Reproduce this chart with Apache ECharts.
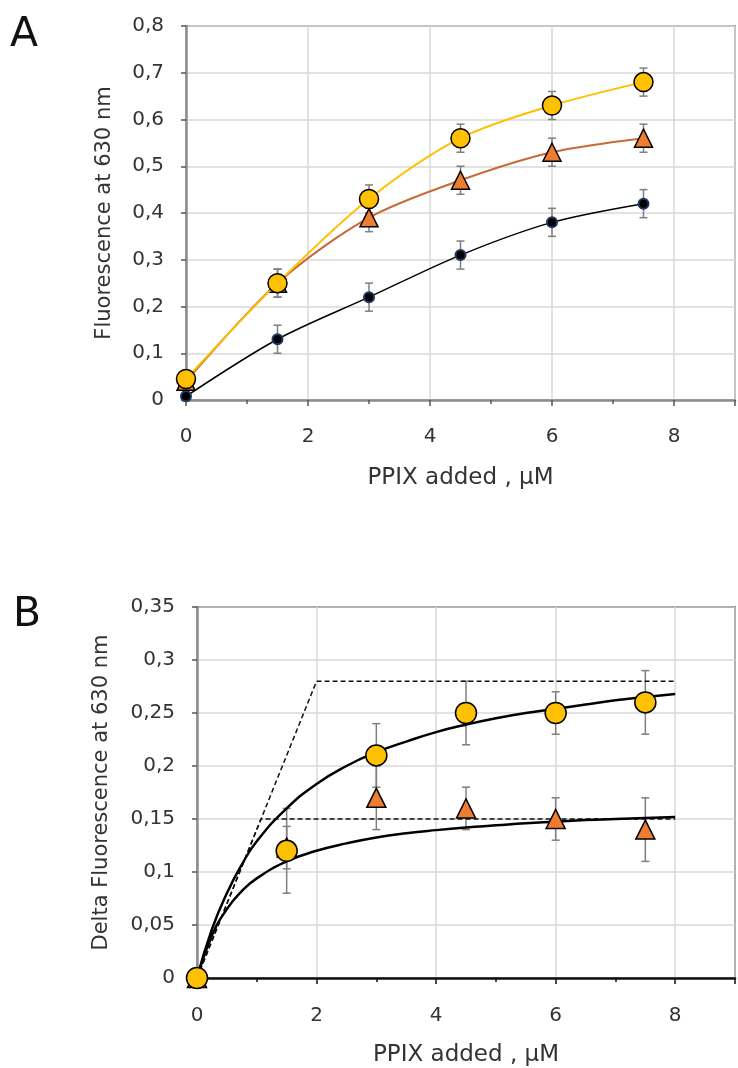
<!DOCTYPE html>
<html>
<head>
<meta charset="utf-8">
<script src="https://cdn.jsdelivr.net/npm/echarts@6/dist/echarts.min.js"></script>
<style>
html,body{margin:0;padding:0;background:#fff;}
#chart{width:738px;height:1068px;}
</style>
</head>
<body>
<div id="chart"></div>
<script>
// ---------- Panel A data ----------
const xA = [0, 1.5, 3, 4.5, 6, 7.5];
const yellowA = [0.045, 0.25, 0.43, 0.56, 0.63, 0.68];
const yellowAErr = [0.01, 0.03, 0.03, 0.03, 0.03, 0.03];
const orangeA = [0.04, 0.25, 0.39, 0.47, 0.53, 0.56];
const orangeAErr = [0.01, 0.03, 0.03, 0.03, 0.03, 0.03];
const blackA = [0.008, 0.13, 0.22, 0.31, 0.38, 0.42];
const blackAErr = [0.01, 0.03, 0.03, 0.03, 0.03, 0.03];

// ---------- Panel B data ----------
const xB = [0, 1.5, 3, 4.5, 6, 7.5];
const yellowB = [0, 0.12, 0.21, 0.25, 0.25, 0.26];
const yellowBErr = [0, 0.04, 0.03, 0.03, 0.02, 0.03];
const orangeB = [0, 0.123, 0.17, 0.16, 0.15, 0.14];
const orangeBErr = [0, 0.02, 0.03, 0.02, 0.02, 0.03];
// fitted saturation curves
const fitX = [0, 0.25, 0.5, 0.75, 1, 1.5, 2, 2.5, 3, 3.5, 4, 4.5, 5, 5.5, 6, 6.5, 7, 7.5, 8];
const fitUpper = [0, 0.046, 0.080, 0.107, 0.129, 0.160, 0.183, 0.200, 0.213, 0.223, 0.232, 0.239, 0.245, 0.250, 0.254, 0.258, 0.262, 0.265, 0.268];
const fitLower = [0, 0.040, 0.065, 0.082, 0.094, 0.110, 0.120, 0.127, 0.1325, 0.1365, 0.1395, 0.142, 0.144, 0.146, 0.1475, 0.149, 0.150, 0.151, 0.152];
const dashUpperX = [0, 2, 8];
const dashUpperY = [0, 0.28, 0.28];
const dashLowerX = [0, 1.07, 8];
const dashLowerY = [0, 0.15, 0.15];

// axis titles
const xTitle = 'PPIX added , µM';
const yTitleA = 'Fluorescence at 630 nm';
const yTitleB = 'Delta Fluorescence at 630 nm';

const FONT = 'DejaVu Sans';
const YELLOW = '#FFC000';
const ORANGE = '#ED7D31';

function pairs(xs, ys) { return xs.map((x, i) => [x, ys[i]]); }
function errData(xs, ys, es) { return xs.map((x, i) => [x, ys[i] - es[i], ys[i] + es[i]]); }
function commaFmt(v) {
  if (v === 0) return '0';
  return String(+v.toFixed(2)).replace('.', ',');
}

function errSeries(idx, xs, ys, es) {
  return {
    type: 'custom', xAxisIndex: idx, yAxisIndex: idx, z: 1,
    data: errData(xs, ys, es).filter(d => d[2] - d[1] > 0.001),
    renderItem: function (params, api) {
      const lo = api.coord([api.value(0), api.value(1)]);
      const hi = api.coord([api.value(0), api.value(2)]);
      const w = 4;
      const st = { stroke: '#7f7f7f', lineWidth: 1.5 };
      return {
        type: 'group',
        children: [
          { type: 'line', shape: { x1: lo[0], y1: lo[1], x2: hi[0], y2: hi[1] }, style: st },
          { type: 'line', shape: { x1: lo[0] - w, y1: lo[1], x2: lo[0] + w, y2: lo[1] }, style: st },
          { type: 'line', shape: { x1: hi[0] - w, y1: hi[1], x2: hi[0] + w, y2: hi[1] }, style: st }
        ]
      };
    }
  };
}

function xAxisCfg(idx, lineColor, tickColor, gap, margin) {
  return {
    type: 'value', gridIndex: idx, min: 0, max: 9, interval: 2,
    name: xTitle, nameLocation: 'middle', nameGap: gap,
    nameTextStyle: { fontFamily: FONT, fontSize: 23, color: '#333' },
    axisLine: { show: true, onZero: false, lineStyle: { color: lineColor, width: 2.5 } },
    axisTick: { show: true, inside: false, length: 6, lineStyle: { color: tickColor, width: 1.5 } },
    minorTick: { show: true, splitNumber: 2, length: 4, lineStyle: { color: tickColor, width: 1.5 } },
    axisLabel: { margin: margin, fontFamily: FONT, fontSize: 20, color: '#333',
      formatter: v => (v > 8.5 ? '' : String(v)) },
    splitLine: { show: true, lineStyle: { color: '#d9d9d9', width: 1.5 } }
  };
}
function yAxisCfg(idx, max, interval, name, gap) {
  return {
    type: 'value', gridIndex: idx, min: 0, max: max, interval: interval,
    name: name, nameLocation: 'middle', nameGap: gap,
    nameTextStyle: { fontFamily: FONT, fontSize: 21, color: '#333' },
    axisLine: { show: true, onZero: false, lineStyle: { color: '#8c8c8c', width: 2.5 } },
    axisTick: { show: true, inside: false, length: 5, lineStyle: { color: '#555', width: 1.5 } },
    axisLabel: { margin: 22, fontFamily: FONT, fontSize: 20, color: '#333', formatter: commaFmt },
    splitLine: { show: true, lineStyle: { color: '#d9d9d9', width: 1.5 } }
  };
}

const chart = echarts.init(document.getElementById('chart'), null, { renderer: 'canvas' });
const option = {
  animation: false,
  backgroundColor: '#fff',
  grid: [
    { left: 186, top: 26, right: -4, bottom: 668, show: true, borderColor: '#8c8c8c', borderWidth: 2, backgroundColor: 'transparent' },
    { left: 197, top: 607, right: 3, bottom: 88, show: true, borderColor: '#000', borderWidth: 1.5, backgroundColor: 'transparent' }
  ],
  xAxis: [xAxisCfg(0, '#8c8c8c', '#555', 67, 27), xAxisCfg(1, '#111', '#111', 66, 28)],
  yAxis: [yAxisCfg(0, 0.8, 0.1, yTitleA, 71), yAxisCfg(1, 0.35, 0.05, yTitleB, 85)],
  graphic: [
    { type: 'text', left: 10, top: 15, style: { text: 'A', fontFamily: FONT, fontSize: 41, fill: '#111' } },
    { type: 'text', left: 13, top: 595, style: { text: 'B', fontFamily: FONT, fontSize: 41, fill: '#111' } }
  ],
  series: [
    // ----- Panel A -----
    errSeries(0, xA, blackA, blackAErr),
    errSeries(0, xA, orangeA, orangeAErr),
    errSeries(0, xA, yellowA, yellowAErr),
    {
      type: 'line', xAxisIndex: 0, yAxisIndex: 0, z: 3, smooth: 0.3,
      data: pairs(xA, blackA),
      lineStyle: { color: '#000', width: 1.5 },
      symbol: 'circle', symbolSize: 10,
      itemStyle: { color: '#000', borderColor: '#1f3864', borderWidth: 2 }
    },
    {
      type: 'line', xAxisIndex: 0, yAxisIndex: 0, z: 4, smooth: 0.3,
      data: pairs(xA, orangeA),
      lineStyle: { color: '#C86A35', width: 2 },
      symbol: 'triangle', symbolSize: 18,
      itemStyle: { color: ORANGE, borderColor: '#000', borderWidth: 1.5 }
    },
    {
      type: 'line', xAxisIndex: 0, yAxisIndex: 0, z: 5, smooth: 0.3,
      data: pairs(xA, yellowA),
      lineStyle: { color: YELLOW, width: 2 },
      symbol: 'circle', symbolSize: 19,
      itemStyle: { color: YELLOW, borderColor: '#000', borderWidth: 1.5 }
    },
    // ----- Panel B -----
    {
      type: 'line', xAxisIndex: 1, yAxisIndex: 1, z: 2, symbol: 'none',
      data: pairs(dashUpperX, dashUpperY),
      lineStyle: { color: '#111', width: 1.5, type: [5, 3] }
    },
    {
      type: 'line', xAxisIndex: 1, yAxisIndex: 1, z: 2, symbol: 'none',
      data: pairs(dashLowerX, dashLowerY),
      lineStyle: { color: '#111', width: 1.5, type: [5, 3] }
    },
    errSeries(1, xB, orangeB, orangeBErr),
    errSeries(1, xB, yellowB, yellowBErr),
    {
      type: 'line', xAxisIndex: 1, yAxisIndex: 1, z: 3, symbol: 'none', smooth: true,
      data: pairs(fitX, fitUpper),
      lineStyle: { color: '#000', width: 2.5 }
    },
    {
      type: 'line', xAxisIndex: 1, yAxisIndex: 1, z: 3, symbol: 'none', smooth: true,
      data: pairs(fitX, fitLower),
      lineStyle: { color: '#000', width: 2.5 }
    },
    {
      type: 'scatter', xAxisIndex: 1, yAxisIndex: 1, z: 4,
      data: pairs(xB, orangeB),
      symbol: 'triangle', symbolSize: 19,
      itemStyle: { color: ORANGE, borderColor: '#000', borderWidth: 1.5, opacity: 1 }
    },
    {
      type: 'scatter', xAxisIndex: 1, yAxisIndex: 1, z: 5,
      data: pairs(xB, yellowB),
      symbol: 'circle', symbolSize: 21,
      itemStyle: { color: YELLOW, borderColor: '#000', borderWidth: 1.5, opacity: 1 }
    }
  ]
};
chart.setOption(option);
</script>
</body>
</html>
